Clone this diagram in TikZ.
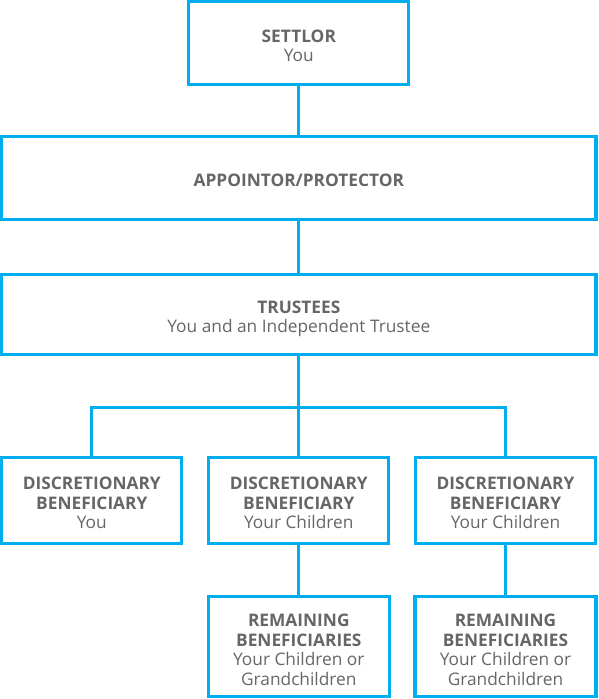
\documentclass[tikz,border=0pt]{standalone}
\usepackage{fontspec}
\setmainfont{Open Sans}
\usetikzlibrary{positioning}
\definecolor{boxblue}{RGB}{0,174,239}
\definecolor{textgrey}{RGB}{102,102,102}

\begin{document}
\begin{tikzpicture}[x=1pt,y=-1pt,
  main node/.style={rectangle,draw=boxblue,line width=3.2pt,inner sep=0pt},
  box text/.style={text=textgrey,align=center,inner sep=0pt,font=\fontsize{17.3}{19.5}\selectfont,yshift=#1},
  box text/.default=-3pt,
  link/.style={draw=boxblue,line width=3.2pt}]
  \useasboundingbox (0,0) rectangle (598,699);

  \node[main node,minimum width=220,minimum height=82.6,
    label={[box text]center:{\textbf{SETTLOR}\\You}}] (settlor) at (298.8,43) {};
  \node[main node,minimum width=594.3,minimum height=83,
    label={[box text=-2pt]center:{\textbf{APPOINTOR/PROTECTOR}}}] (appointor) at (298.8,178) {};
  \node[main node,minimum width=594.3,minimum height=80,
    label={[box text=-4.5pt]center:{\textbf{TRUSTEES}\\You and an Independent Trustee}}] (trustees) at (298.8,314.5) {};

  \foreach \place/\x/\who in {
    {(91.8,500.5)/disc1/You},
    {(298.8,500.5)/disc2/Your Children},
    {(505.5,500.5)/disc3/Your Children}}
  \node[main node,minimum width=180,minimum height=86,
    label={[box text=-2.5pt]center:{\textbf{DISCRETIONARY}\\\textbf{BENEFICIARY}\\\who}}] (\x) at \place {};

  \foreach \place/\x in {
    {(298.8,646.7)/rem2},
    {(505.5,646.7)/rem3}}
  \node[main node,minimum width=181,minimum height=100,
    label={[box text]center:{\textbf{REMAINING}\\\textbf{BENEFICIARIES}\\Your Children or\\Grandchildren}}] (\x) at \place {};

  \coordinate (fork) at (298.8,407.5);

  \path[link]
    (settlor.south) edge (appointor.north)
    (appointor.south) edge (trustees.north)
    (trustees.south) edge (disc2.north)
    (disc2.south) edge (rem2.north)
    (disc3.south) edge (rem3.north);
  \draw[link] (disc1.north) |- (fork) -| (disc3.north);
\end{tikzpicture}
\end{document}
